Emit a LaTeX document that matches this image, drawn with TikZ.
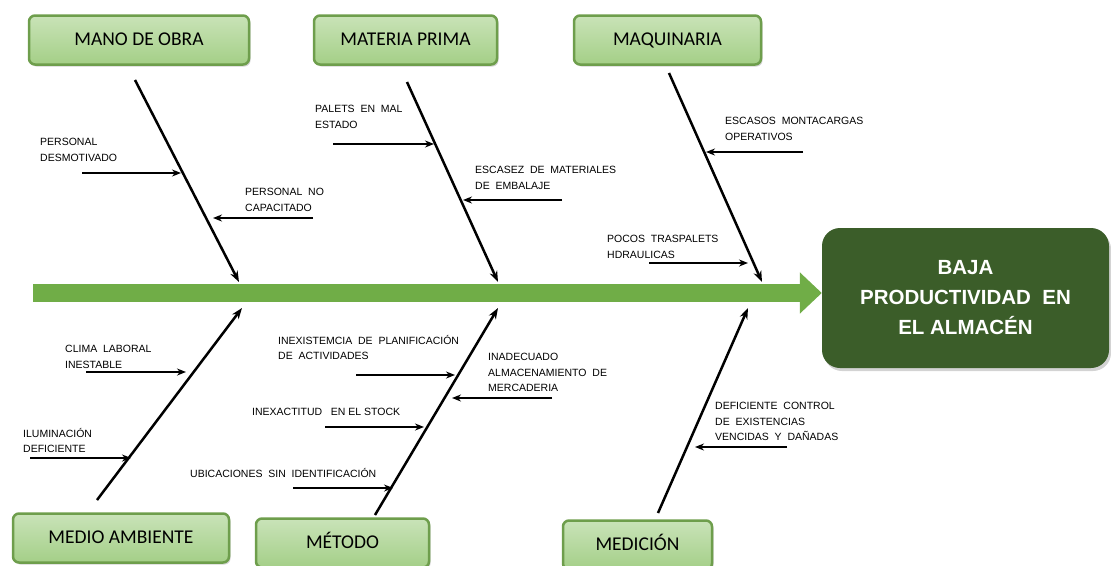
\documentclass[tikz,border=0pt]{standalone}
\usepackage{fontspec}
\setmainfont{Liberation Sans}
\newfontfamily\boxfont{Carlito}
\usetikzlibrary{arrows.meta, shadows}
\definecolor{boxtop}{HTML}{C9E3B8}
\definecolor{boxbot}{HTML}{A4CF87}
\definecolor{boxedge}{HTML}{6E9E4C}
\definecolor{spinegreen}{HTML}{70AD47}
\definecolor{effectgreen}{HTML}{3B5D29}
\tikzset{causebox/.style={rectangle, rounded corners=6pt, minimum height=49pt, text height=13.5pt, text depth=3.5pt, top color=boxtop, bottom color=boxbot, draw=boxedge, line width=2.5pt, drop shadow={shadow xshift=1.5pt, shadow yshift=-2pt, opacity=0.35}, font=\boxfont\fontsize{19.5}{19.5}\selectfont}}
\tikzset{effectbox/.style={rectangle, rounded corners=18pt, minimum width=287pt, minimum height=140pt, fill=effectgreen, drop shadow={shadow xshift=2pt, shadow yshift=-3pt, opacity=0.35}, text=white, align=center, font=\bfseries\fontsize{20.5}{30}\selectfont}}
\tikzset{spine/.style={line width=18pt, spinegreen, -{Triangle[length=22pt, width=40pt]}}}
\tikzset{bone/.style={line width=2.5pt, -{Stealth[length=11pt, width=8pt]}}}
\tikzset{subarrow/.style={line width=2pt, -{Stealth[length=9pt, width=7pt]}}}
\tikzset{causetext/.style={anchor=north west, inner sep=0pt, align=left, font=\fontsize{10.5}{15.5}\selectfont}}

\begin{document}
\begin{tikzpicture}[x=1pt, y=-1pt]
\useasboundingbox (0,0) rectangle (1111,565);

%%%%% MAIN BLOCKS
\node (manoobra) [causebox, minimum width=220pt] at (139,40) {MANO DE OBRA};
\node (materia) [causebox, minimum width=183pt] at (405.5,40) {MATERIA PRIMA};
\node (maquinaria) [causebox, minimum width=187pt] at (667.5,40) {MAQUINARIA};
\node (medio) [causebox, minimum width=216pt] at (121,538) {MEDIO AMBIENTE};
\node (metodo) [causebox, minimum width=173pt] at (342.5,543) {MÉTODO};
\node (medicion) [causebox, minimum width=149pt] at (637.5,545) {MEDICIÓN};
\node (efecto) [effectbox] at (965.5,298) {BAJA\\PRODUCTIVIDAD\ \ EN\\EL ALMACÉN};

%%%%% SPINE
\coordinate (spinestart) at (33,293);
\draw [spine] (spinestart) -- (spinestart -| efecto.west);

%%%%% BONES
\coordinate (mo-a) at (135,80);   \coordinate (mo-b) at (239,282);
\coordinate (mp-a) at (407,82);   \coordinate (mp-b) at (498,282);
\coordinate (mq-a) at (669,73);   \coordinate (mq-b) at (762,282);
\coordinate (ma-a) at (97,500);   \coordinate (ma-b) at (242,308);
\coordinate (me-a) at (375,515);  \coordinate (me-b) at (498,308);
\coordinate (md-a) at (658,513);  \coordinate (md-b) at (748,308);
\draw [bone] (mo-a) -- (mo-b);
\draw [bone] (mp-a) -- (mp-b);
\draw [bone] (mq-a) -- (mq-b);
\draw [bone] (ma-a) -- (ma-b);
\draw [bone] (me-a) -- (me-b);
\draw [bone] (md-a) -- (md-b);

%%%%% CAUSES: mano de obra
\node (desmotivado) [causetext] at (40,138) {PERSONAL\\DESMOTIVADO};
\coordinate (desm-a) at (82,173);  \coordinate (desm-b) at (181,173);
\draw [subarrow] (desm-a) -- (desm-b);
\node (capacitado) [causetext] at (245,188) {PERSONAL\ \ NO\\CAPACITADO};
\coordinate (cap-a) at (313,218);  \coordinate (cap-b) at (213,218);
\draw [subarrow] (cap-a) -- (cap-b);

%%%%% CAUSES: materia prima
\node (palets) [causetext] at (315,105) {PALETS\ \ EN\ \ MAL\\ESTADO};
\coordinate (pal-a) at (333,144);  \coordinate (pal-b) at (434,144);
\draw [subarrow] (pal-a) -- (pal-b);
\node (escasez) [causetext] at (475,166) {ESCASEZ\ \ DE\ \ MATERIALES\\DE\ \ EMBALAJE};
\coordinate (esc-a) at (562,200);  \coordinate (esc-b) at (463,200);
\draw [subarrow] (esc-a) -- (esc-b);

%%%%% CAUSES: maquinaria
\node (montacargas) [causetext] at (725,117) {ESCASOS\ \ MONTACARGAS\\OPERATIVOS};
\coordinate (mon-a) at (803,152);  \coordinate (mon-b) at (706,152);
\draw [subarrow] (mon-a) -- (mon-b);
\node (traspalets) [causetext] at (607,235) {POCOS\ \ TRASPALETS\\HDRAULICAS};
\coordinate (tra-a) at (649,263);  \coordinate (tra-b) at (748,263);
\draw [subarrow] (tra-a) -- (tra-b);

%%%%% CAUSES: medio ambiente
\node (clima) [causetext] at (65,345) {CLIMA\ \ LABORAL\\INESTABLE};
\coordinate (cli-a) at (86,372);  \coordinate (cli-b) at (186,372);
\draw [subarrow] (cli-a) -- (cli-b);
\node (iluminacion) [causetext] at (23,428) {ILUMINACIÓN\\DEFICIENTE};
\coordinate (ilu-a) at (30,458);  \coordinate (ilu-b) at (131,458);
\draw [subarrow] (ilu-a) -- (ilu-b);

%%%%% CAUSES: metodo
\node (planificacion) [causetext] at (278,335) {INEXISTEMCIA\ \ DE\ \ PLANIFICACIÓN\\DE\ \ ACTIVIDADES};
\coordinate (pla-a) at (356,375);  \coordinate (pla-b) at (455,375);
\draw [subarrow] (pla-a) -- (pla-b);
\node (almacenamiento) [causetext] at (488,353) {INADECUADO\\ALMACENAMIENTO\ \ DE\\MERCADERIA};
\coordinate (alm-a) at (552,398);  \coordinate (alm-b) at (452,398);
\draw [subarrow] (alm-a) -- (alm-b);
\node (stock) [causetext] at (252,408) {INEXACTITUD\ \ \ EN\ EL\ STOCK};
\coordinate (sto-a) at (325,427);  \coordinate (sto-b) at (424,427);
\draw [subarrow] (sto-a) -- (sto-b);
\node (ubicaciones) [causetext] at (190,468) {UBICACIONES\ \ SIN\ \ IDENTIFICACIÓN};
\coordinate (ubi-a) at (293,488);  \coordinate (ubi-b) at (393,488);
\draw [subarrow] (ubi-a) -- (ubi-b);

%%%%% CAUSES: medicion
\node (existencias) [causetext] at (715,402) {DEFICIENTE\ \ CONTROL\\DE\ \ EXISTENCIAS\\VENCIDAS\ \ Y\ \ DAÑADAS};
\coordinate (exi-a) at (787,447);  \coordinate (exi-b) at (695,447);
\draw [subarrow] (exi-a) -- (exi-b);
\end{tikzpicture}
\end{document}
